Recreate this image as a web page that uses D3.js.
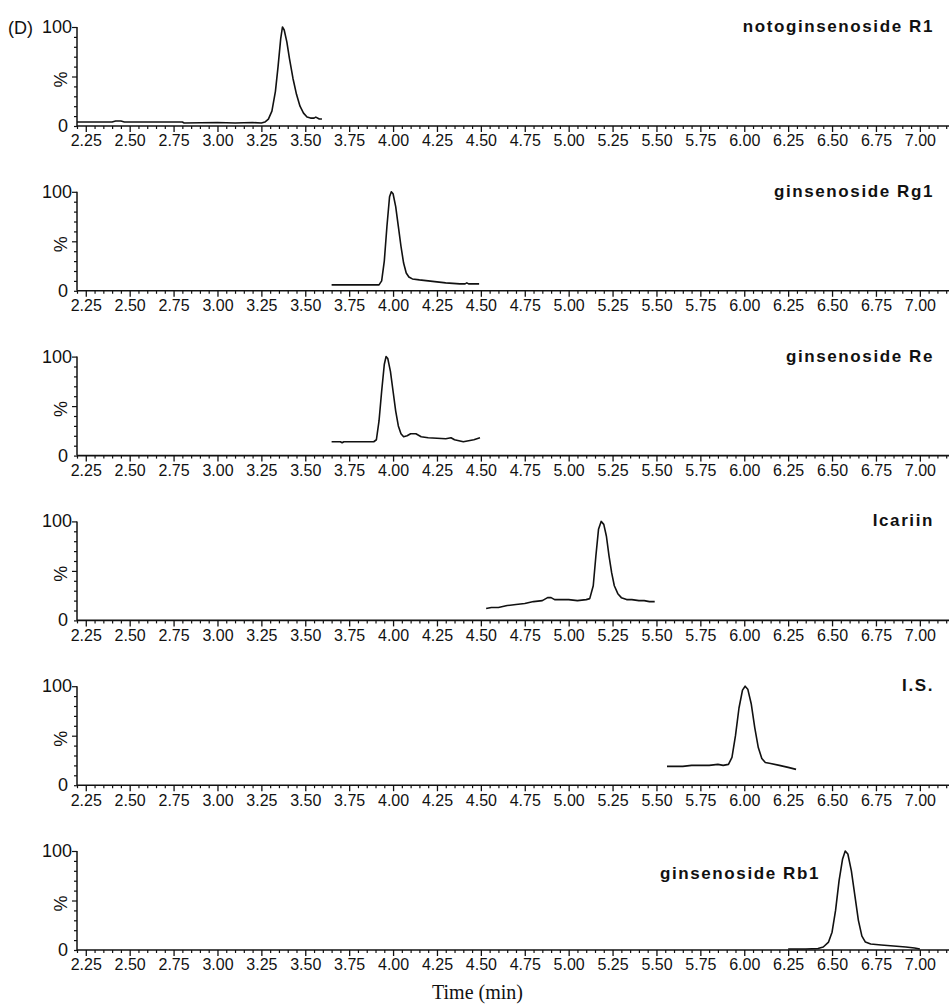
<!DOCTYPE html>
<html>
<head>
<meta charset="utf-8">
<script src="https://cdn.jsdelivr.net/npm/d3@7"></script>
<style>
  body { margin: 0; background: #fff; }
  svg { display: block; }
  .tick text { font-family: "Liberation Sans", Arial, sans-serif; }
</style>
</head>
<body>
<svg id="chart"></svg>
<script>
// compound names, one per panel
let compounds = ['notoginsenoside R1', 'ginsenoside Rg1', 'ginsenoside Re', 'Icariin', 'I.S.', 'ginsenoside Rb1'];

// traces, [time (min), relative intensity %]
let traceR1 = [[2.20, 4], [2.40, 4], [2.42, 5], [2.45, 5], [2.47, 4], [2.80, 4], [2.81, 3], [3.00, 3.5], [3.10, 3],
  [3.20, 3.5], [3.25, 3], [3.27, 4], [3.29, 7], [3.31, 15], [3.33, 35], [3.345, 60], [3.36, 88], [3.37, 100],
  [3.38, 97], [3.395, 85], [3.41, 68], [3.43, 48], [3.45, 32], [3.47, 20], [3.49, 13], [3.51, 9], [3.53, 8],
  [3.55, 8], [3.56, 9], [3.58, 7], [3.595, 7]];
let traceRg1 = [[3.65, 6], [3.92, 6], [3.935, 10], [3.95, 30], [3.965, 65], [3.98, 95], [3.99, 100], [4.00, 98],
  [4.015, 85], [4.03, 65], [4.045, 45], [4.06, 28], [4.075, 18], [4.09, 14], [4.11, 12], [4.15, 11], [4.20, 10],
  [4.25, 9], [4.30, 8], [4.38, 7], [4.41, 7], [4.42, 8], [4.43, 7], [4.49, 7]];
let traceRe = [[3.65, 14], [3.70, 14], [3.71, 13], [3.72, 14], [3.89, 14], [3.905, 16], [3.92, 35], [3.935, 65],
  [3.95, 92], [3.96, 100], [3.97, 98], [3.985, 85], [4.00, 65], [4.015, 45], [4.03, 30], [4.045, 22], [4.06, 19],
  [4.08, 20], [4.10, 22], [4.13, 22], [4.16, 19], [4.20, 18], [4.30, 17], [4.33, 18], [4.35, 16], [4.40, 14],
  [4.43, 15], [4.46, 16], [4.495, 18]];
let traceIcariin = [[4.53, 12], [4.56, 13], [4.60, 13], [4.65, 15], [4.70, 16], [4.75, 17], [4.80, 19], [4.85, 20],
  [4.88, 23], [4.90, 23], [4.92, 21], [5.00, 21], [5.05, 20], [5.10, 21], [5.12, 22], [5.14, 35], [5.155, 65],
  [5.17, 92], [5.185, 100], [5.20, 97], [5.215, 85], [5.23, 65], [5.245, 48], [5.26, 35], [5.28, 27], [5.30, 23],
  [5.33, 21], [5.36, 21], [5.40, 20], [5.43, 20], [5.46, 19], [5.49, 19]];
let traceIS = [[5.56, 19], [5.65, 19], [5.70, 20], [5.80, 20], [5.85, 21], [5.88, 20], [5.91, 21], [5.93, 28],
  [5.95, 50], [5.97, 78], [5.99, 96], [6.005, 100], [6.02, 97], [6.04, 82], [6.06, 58], [6.08, 38], [6.10, 27],
  [6.12, 23], [6.15, 22], [6.20, 20], [6.25, 18], [6.295, 16]];
let traceRb1 = [[6.25, 1], [6.35, 1], [6.42, 1.5], [6.45, 3], [6.48, 8], [6.50, 18], [6.52, 40], [6.54, 70],
  [6.56, 92], [6.575, 100], [6.59, 97], [6.61, 80], [6.63, 55], [6.65, 30], [6.67, 14], [6.69, 8], [6.72, 6],
  [6.78, 5], [6.85, 4], [6.92, 3], [6.97, 2], [7.00, 1]];

let traces = [traceR1, traceRg1, traceRe, traceIcariin, traceIS, traceRb1];

// axis ticks
let xTickLabels = ['2.25', '2.50', '2.75', '3.00', '3.25', '3.50', '3.75', '4.00', '4.25', '4.50',
  '4.75', '5.00', '5.25', '5.50', '5.75', '6.00', '6.25', '6.50', '6.75', '7.00'];
let yTickLabels = ['0', '100'];

let width = 949;
let height = 1006;
let left = 77;
let firstBase = 126;
let panelStep = 164.8;
let panelH = 99;

let svg = d3.select('#chart')
  .attr('width', width)
  .attr('height', height);

let x = d3.scaleLinear().domain([2.2, 7.166]).range([left, width]);

let majors = xTickLabels.map(Number);
let minors = d3.range(44, 144).map(d => d / 20).filter(d => !majors.some(m => Math.abs(m - d) < 1e-6));

let line = d3.line()
  .x(d => x(d[0]))
  .y(d => d.y);

compounds.forEach(function(name, i) {
  let base = firstBase + i * panelStep;
  let y = d3.scaleLinear().domain([0, 100]).range([base, base - panelH]);

  let g = svg.append('g');

  // x axis: minor + major ticks
  let xMinor = d3.axisBottom(x).tickValues(minors).tickSize(3).tickFormat('');
  g.append('g')
    .attr('transform', `translate(0,${base})`)
    .call(xMinor)
    .call(a => a.select('.domain').remove())
    .selectAll('line').attr('stroke', '#111').attr('stroke-width', 1.2);

  let xMajor = d3.axisBottom(x).tickValues(majors).tickSize(6).tickPadding(3)
    .tickFormat((d, k) => xTickLabels[k]);
  let xa = g.append('g')
    .attr('transform', `translate(0,${base})`)
    .call(xMajor);
  xa.select('.domain').attr('d', `M${left},0H${width}`).attr('stroke', '#111').attr('stroke-width', 1.6);
  xa.selectAll('line').attr('stroke', '#111').attr('stroke-width', 1.3);
  xa.selectAll('text').attr('font-size', 16).attr('fill', '#111');

  // y axis
  let yAxis = d3.axisLeft(y).tickValues(d3.range(0, 101, 10))
    .tickSize(3).tickFormat('');
  let ya = g.append('g')
    .attr('transform', `translate(${left},0)`)
    .call(yAxis);
  ya.select('.domain').attr('d', `M0,${y(0)}V${y(100)}`).attr('stroke', '#111').attr('stroke-width', 1.5);
  ya.selectAll('line').attr('stroke', '#111').attr('stroke-width', 1.2);
  ya.selectAll('.tick').filter(d => d === 50 || d === 100).select('line').attr('x2', -5);

  g.append('text')
    .attr('x', left - 5).attr('y', y(100) + 6)
    .attr('text-anchor', 'end')
    .attr('font-family', 'Liberation Sans, Arial, sans-serif')
    .attr('font-size', 18).attr('fill', '#111')
    .text(yTickLabels[1]);
  g.append('text')
    .attr('x', left - 9).attr('y', y(0) + 6)
    .attr('text-anchor', 'end')
    .attr('font-family', 'Liberation Sans, Arial, sans-serif')
    .attr('font-size', 18).attr('fill', '#111')
    .text(yTickLabels[0]);
  g.append('text')
    .attr('transform', `translate(${left - 10},${y(47)}) rotate(-90)`)
    .attr('text-anchor', 'middle')
    .attr('font-family', 'Liberation Sans, Arial, sans-serif')
    .attr('font-size', 18).attr('fill', '#111')
    .text('%');

  // compound title
  let last = i === compounds.length - 1;
  g.append('text')
    .attr('x', last ? 820 : 934)
    .attr('y', last ? base - panelH + 28 : base - panelH + 5)
    .attr('text-anchor', 'end')
    .attr('font-family', 'Liberation Sans, Arial, sans-serif')
    .attr('font-weight', 'bold')
    .attr('font-size', 17)
    .attr('letter-spacing', 1.6)
    .attr('fill', '#111')
    .text(name);

  // trace
  let pts = traces[i].map(d => Object.assign([d[0], d[1]], { y: y(d[1]) }));
  g.append('path')
    .datum(pts)
    .attr('d', line)
    .attr('fill', 'none')
    .attr('stroke', '#111')
    .attr('stroke-width', 1.6)
    .attr('stroke-linejoin', 'round');
});

// panel tag
svg.append('text')
  .attr('x', 8).attr('y', firstBase - panelH + 7)
  .attr('font-family', 'Liberation Sans, Arial, sans-serif')
  .attr('font-size', 18).attr('fill', '#111')
  .text('(D)');

svg.append('text')
  .attr('x', 432).attr('y', 999)
  .attr('font-family', 'Liberation Serif, Times New Roman, serif')
  .attr('font-size', 20).attr('fill', '#111')
  .text('Time (min)');
</script>
</body>
</html>
